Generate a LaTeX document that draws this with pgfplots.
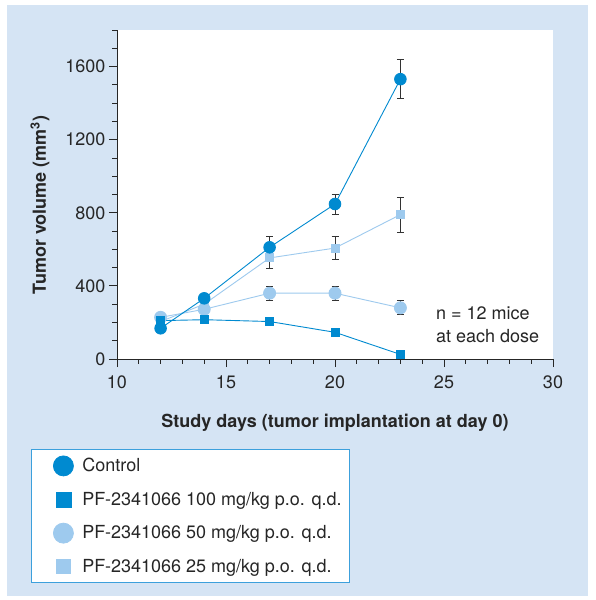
\documentclass[border=0pt]{standalone}
\usepackage{pgfplots}
\pgfplotsset{compat=1.18}
\usepackage{pgfplotstable}
\usepackage{fontspec}
\setmainfont{TeX Gyre Heros}
\definecolor{ctrl}{RGB}{0,138,208}
\definecolor{light}{RGB}{158,202,238}
\definecolor{bgblue}{RGB}{213,228,244}
\definecolor{legblue}{RGB}{60,160,220}

\pgfplotstableread{
x y e
12 168 0
14 332 12
17 611 58
20 848 55
23 1531 107
}\tctrl
\pgfplotstableread{
x y
12 210
14 215
17 205
20 146
23 25
}\thundred
\pgfplotstableread{
x y e
12 228 0
14 272 12
17 360 37
20 360 37
23 280 38
}\tfifty
\pgfplotstableread{
x y e
12 205 0
14 300 12
17 553 55
20 607 64
23 790 95
}\ttwentyfive

\pgfplotsset{
  legmark/.style={legend image code/.code={%
    \path (0pt,0pt);
    \draw[##1, mark repeat=1] plot coordinates {(25.6pt,0pt)};}},
}

\begin{document}
\begin{tikzpicture}
\path (0pt,0pt) rectangle (596pt,600pt);
\fill[bgblue] (7pt,4pt) rectangle (588pt,595pt);
\begin{axis}[
  scale only axis, width=436pt, height=329pt,
  at={(117pt,241pt)}, anchor=south west,
  xmin=10, xmax=30, ymin=0, ymax=1800,
  axis x line*=bottom, axis y line*=left,
  axis line style={black!85, line width=0.8pt},
  xtick={10,15,20,25,30}, minor xtick={10,11,...,30},
  ytick={0,400,800,1200,1600}, minor ytick={0,100,...,1800},
  tick align=outside, major tick length=8pt, minor tick length=4.5pt,
  every tick/.style={black!85, line width=0.8pt},
  axis background/.style={fill=white},
  tick label style={font=\fontsize{18}{21}\selectfont, text=black!85},
  xticklabel style={yshift=-5pt},
  /pgf/number format/assume math mode=true,
  /pgf/number format/1000 sep={},
  clip=false,
  xlabel={\bfseries Study days (tumor implantation at day 0)},
  ylabel={\bfseries Tumor volume (mm\textsuperscript{3})},
  label style={font=\fontsize{18}{21}\selectfont, text=black!85},
  xlabel style={at={(axis description cs:0.5,-0.2097)}, anchor=base},
  ylabel style={at={(axis description cs:-0.163,0.468)}, anchor=base},
  legend style={at={(axis description cs:-0.1972,-0.2736)}, anchor=north west,
    draw=legblue, line width=0.8pt, fill=white, font=\fontsize{18}{21}\selectfont,
    text=black!85, row sep=14.3pt, column sep=7pt, inner xsep=6pt, inner ysep=6.5pt},
  legend cell align=left,
  error bars/error bar style={black!80, line width=0.8pt},
  error bars/error mark options={black!80, line width=0.8pt, mark size=3.5pt, rotate=90},
]
\addlegendimage{only marks, mark=*, mark size=10pt, color=ctrl, legmark}
\addlegendentry{Control}
\addlegendimage{only marks, mark=square*, mark size=7.5pt, color=ctrl, legmark}
\addlegendentry{PF-2341066 100 mg/kg p.o. q.d.}
\addlegendimage{only marks, mark=*, mark size=10pt, color=light, legmark}
\addlegendentry{PF-2341066 50 mg/kg p.o. q.d.}
\addlegendimage{only marks, mark=square*, mark size=7pt, color=light, legmark}
\addlegendentry{PF-2341066 25 mg/kg p.o. q.d.}

\addplot[forget plot, color=light, line width=0.9pt, mark=square*, mark size=4pt,
  mark options={fill=light, draw=light},
  error bars/.cd, y dir=both, y explicit]
  table[x=x, y=y, y error=e] {\ttwentyfive};
\addplot[forget plot, color=light, line width=0.9pt, mark=*, mark size=6pt,
  mark options={fill=light, draw=light},
  error bars/.cd, y dir=both, y explicit]
  table[x=x, y=y, y error=e] {\tfifty};
\addplot[forget plot, color=ctrl, line width=0.9pt, mark=square*, mark size=4pt,
  mark options={fill=ctrl, draw=ctrl}]
  table[x=x, y=y] {\thundred};
\addplot[forget plot, color=ctrl, line width=0.9pt, mark=*, mark size=5.8pt,
  mark options={fill=ctrl, draw=ctrl},
  error bars/.cd, y dir=both, y explicit]
  table[x=x, y=y, y error=e] {\tctrl};

\node[anchor=west, align=left, inner sep=0pt, font=\fontsize{18}{22.7}\selectfont, text=black!85]
  at (axis cs:24.63,186) {n = 12 mice\\at each dose};
\end{axis}
\end{tikzpicture}
\end{document}
